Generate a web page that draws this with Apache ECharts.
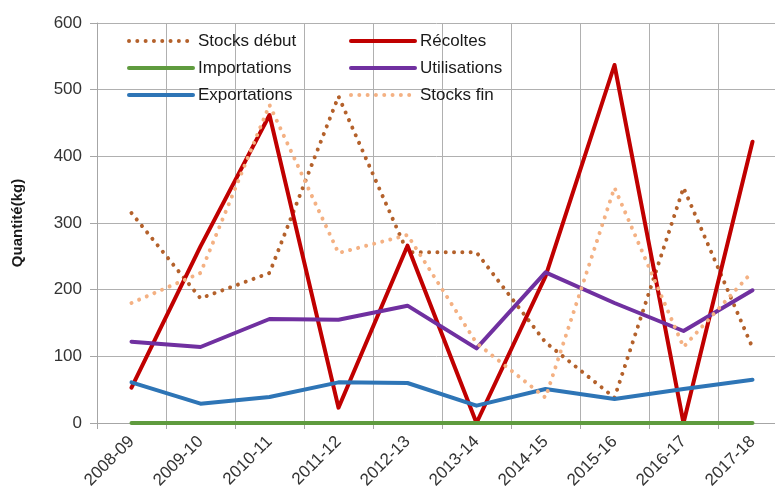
<!DOCTYPE html>
<html>
<head>
<meta charset="utf-8">
<script src="https://cdn.jsdelivr.net/npm/echarts@6/dist/echarts.min.js"></script>
<style>html,body{margin:0;padding:0;background:#fff;}#c{width:775px;height:493px;}</style>
</head>
<body>
<div id="c"></div>
<script>
const categories = ['2008-09','2009-10','2010-11','2011-12','2012-13','2013-14','2014-15','2015-16','2016-17','2017-18'];
const stocksDebut = [315, 187, 225, 490, 256, 256, 121, 38, 353, 113];
const recoltes = [53, 265, 462, 23, 266, 0, 220, 537, 0, 422];
const importations = [0, 0, 0, 0, 0, 0, 0, 0, 0, 0];
const utilisations = [122, 114, 156, 155, 176, 112, 226, 180, 138, 199];
const exportations = [61, 29, 39, 61, 60, 26, 51, 36, 51, 65];
const stocksFin = [180, 225, 477, 255, 282, 120, 38, 353, 114, 227];
const yTicks = [0, 100, 200, 300, 400, 500, 600];

const FONT = 'Liberation Sans';
const chart = echarts.init(document.getElementById('c'), null, {renderer: 'canvas'});
const dotted = [0.01, 8.3];
const styles = {
  'Stocks début': {color: '#B4612B', width: 4, type: dotted},
  'Récoltes': {color: '#C00000', width: 4, type: 'solid'},
  'Importations': {color: '#5F9B3E', width: 4, type: 'solid'},
  'Utilisations': {color: '#7030A0', width: 4, type: 'solid'},
  'Exportations': {color: '#2E75B6', width: 4, type: 'solid'},
  'Stocks fin': {color: '#F4B183', width: 4, type: dotted}
};
function line(name, data) {
  const s = styles[name];
  return {
    name, type: 'line', data, symbol: 'none', smooth: false, animation: false,
    lineStyle: {color: s.color, width: s.width, type: s.type, cap: 'round', join: 'round'},
    itemStyle: {color: s.color}
  };
}
function legendItem(name) {
  const s = styles[name];
  return {
    name,
    itemStyle: {opacity: 0},
    lineStyle: {color: s.color, width: s.width, type: s.type, cap: 'round'}
  };
}
const legendCommon = {
  orient: 'vertical', itemWidth: 64, itemHeight: 18, itemGap: 9,
  textStyle: {fontFamily: FONT, fontSize: 17, color: '#1a1a1a', lineHeight: 18}
};
chart.setOption({
  animation: false,
  grid: {left: 97, top: 23, width: 690, height: 400, outerBoundsMode: 'none', containLabel: false},
  legend: [
    Object.assign({left: 122, top: 27, data: ['Stocks début', 'Importations', 'Exportations'].map(legendItem)}, legendCommon),
    Object.assign({left: 344, top: 27, data: ['Récoltes', 'Utilisations', 'Stocks fin'].map(legendItem)}, legendCommon)
  ],
  xAxis: {
    type: 'category', data: categories, boundaryGap: true,
    axisLine: {show: true, lineStyle: {color: '#a6a6a6', width: 1}},
    axisTick: {show: true, length: 6, interval: 0, lineStyle: {color: '#a6a6a6'}},
    splitLine: {show: true, interval: 0, lineStyle: {color: '#b0b0b0', width: 1}},
    axisLabel: {rotate: 45, interval: 0, margin: 16, fontFamily: FONT, fontSize: 17, color: '#333'}
  },
  yAxis: {
    type: 'value', min: yTicks[0], max: yTicks[yTicks.length - 1], interval: 100,
    name: 'Quantité(kg)', nameLocation: 'middle', nameGap: 72, nameRotate: 90,
    nameTextStyle: {fontFamily: FONT, fontSize: 15, fontWeight: 'bold', color: '#1a1a1a'},
    axisLine: {show: true, lineStyle: {color: '#a6a6a6'}},
    axisTick: {show: true, length: 7, lineStyle: {color: '#a6a6a6'}},
    splitLine: {show: true, lineStyle: {color: '#b0b0b0', width: 1}},
    axisLabel: {margin: 15, fontFamily: FONT, fontSize: 17, color: '#333'}
  },
  series: [
    line('Stocks début', stocksDebut),
    line('Récoltes', recoltes),
    line('Importations', importations),
    line('Utilisations', utilisations),
    line('Exportations', exportations),
    line('Stocks fin', stocksFin)
  ]
});
</script>
</body>
</html>
